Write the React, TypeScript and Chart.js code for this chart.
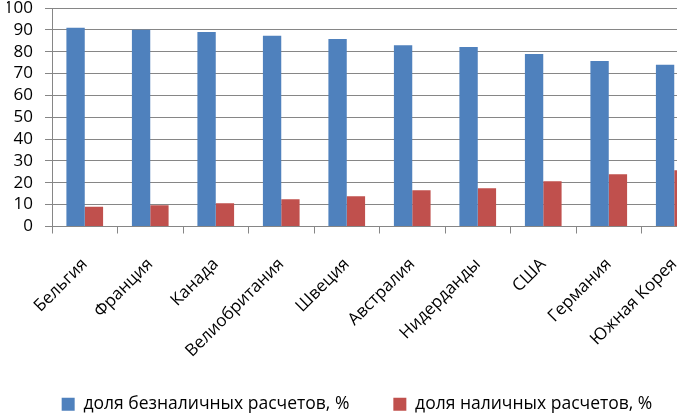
import React, { useEffect, useRef } from "react";
import { Chart, registerables } from "chart.js";

Chart.register(...registerables);

const categories = [
  "Бельгия",
  "Франция",
  "Канада",
  "Велиобритания",
  "Швеция",
  "Австралия",
  "Нидерданды",
  "США",
  "Германия",
  "Южная Корея",
];
const cashlessShare = [91, 90, 89, 87.3, 85.8, 83, 82.1, 79, 75.8, 74];
const cashShare = [9, 9.7, 10.6, 12.5, 13.9, 16.6, 17.5, 20.7, 23.9, 25.8];
const seriesNames = ["доля безналичных расчетов, %", "доля наличных расчетов, %"];

const FONT = "'Open Sans', 'Noto Sans', sans-serif";
const GRID = "#868686";

const unclipLabels = {
  id: "unclipLabels",
  afterLayout(chart: any) {
    const x = chart.scales.x;
    if (x) x.bottom += 20;
  },
};

export default function App() {
  const ref = useRef<HTMLCanvasElement | null>(null);

  useEffect(() => {
    document.body.style.overflow = "hidden";
    const ctx = ref.current;
    if (!ctx) return;
    const chart = new Chart(ctx, {
      type: "bar",
      data: {
        labels: categories,
        datasets: [
          {
            label: seriesNames[0],
            data: cashlessShare,
            backgroundColor: "#4F81BD",
            borderWidth: 0,
            categoryPercentage: 0.56,
            barPercentage: 1,
          },
          {
            label: seriesNames[1],
            data: cashShare,
            backgroundColor: "#C0504D",
            borderWidth: 0,
            categoryPercentage: 0.56,
            barPercentage: 1,
          },
        ],
      },
      plugins: [unclipLabels],
      options: {
        animation: false,
        responsive: true,
        maintainAspectRatio: false,
        devicePixelRatio: 1,
        layout: { padding: { left: 7, right: 7, top: 0, bottom: 0 } },
        plugins: {
          tooltip: { enabled: false },
          legend: {
            position: "bottom",
            labels: {
              boxWidth: 13,
              boxHeight: 13,
              padding: 44,
              color: "#000",
              font: { family: FONT, size: 17.5, lineHeight: 1 },
            },
          },
        },
        scales: {
          x: {
            afterFit: (scale: any) => {
              scale.height = 125;
              scale.paddingLeft = 0;
              scale.paddingRight = 0;
            },
            grid: {
              drawOnChartArea: false,
              drawTicks: true,
              tickLength: 7,
              color: GRID,
              offset: true,
            },
            border: { color: GRID, width: 1 },
            ticks: {
              autoSkip: false,
              maxRotation: 45,
              minRotation: 45,
              padding: 22,
              color: "#000",
              font: { family: FONT, size: 17, lineHeight: 1 },
            },
          },
          y: {
            min: 0,
            max: 100,
            afterFit: (scale: any) => {
              scale.width = 45;
              scale.paddingTop = 8;
              scale.paddingBottom = 8;
            },
            grid: {
              color: GRID,
              tickLength: 7,
              drawTicks: true,
            },
            border: { color: GRID, width: 1 },
            ticks: {
              stepSize: 10,
              padding: 12,
              color: "#000",
              font: { family: FONT, size: 17, lineHeight: 1 },
            },
          },
        },
      },
    });
    return () => chart.destroy();
  }, []);

  return (
    <div
      style={{
        position: "fixed",
        left: 0,
        top: 0,
        width: 714,
        height: 423,
        background: "#fff",
      }}
    >
      <canvas ref={ref} />
    </div>
  );
}
